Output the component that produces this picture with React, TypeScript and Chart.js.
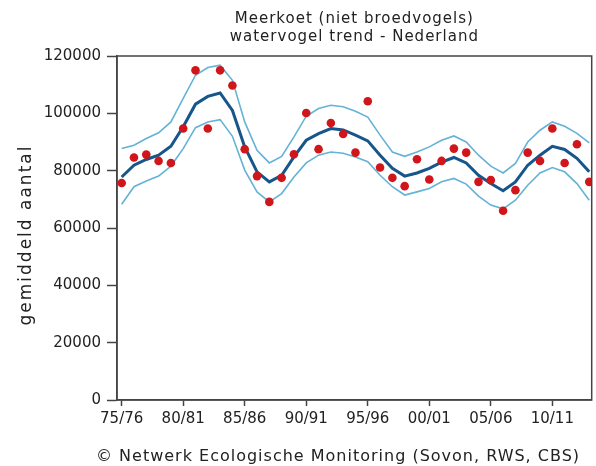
import React, { useEffect, useRef } from "react";
import { Chart, registerables } from "chart.js";

Chart.register(...registerables);

const seasons = [
  "75/76", "76/77", "77/78", "78/79", "79/80", "80/81", "81/82", "82/83", "83/84", "84/85",
  "85/86", "86/87", "87/88", "88/89", "89/90", "90/91", "91/92", "92/93", "93/94", "94/95",
  "95/96", "96/97", "97/98", "98/99", "99/00", "00/01", "01/02", "02/03", "03/04", "04/05",
  "05/06", "06/07", "07/08", "08/09", "09/10", "10/11", "11/12", "12/13", "13/14",
];

const tickLabels = ["75/76", "80/81", "85/86", "90/91", "95/96", "00/01", "05/06", "10/11"];
const tickIndex = [0, 5, 10, 15, 20, 25, 30, 35];

const counts = [
  75700, 84600, 85600, 83400, 82700, 94700, 115000, 94700, 115000, 109700,
  87500, 78100, 69100, 77500, 85700, 100100, 87500, 96600, 92800, 86300,
  104200, 81100, 77500, 74600, 84000, 76900, 83400, 87700, 86300, 76100,
  76700, 66000, 73200, 86300, 83400, 94700, 82700, 89200, 76100,
];

const trend = [
  77800, 81900, 83900, 85400, 88500, 95300, 103200, 105900, 107100, 101000,
  88300, 79600, 76100, 78400, 84800, 90600, 92900, 94700, 94200, 92400,
  90400, 85400, 80800, 78100, 79200, 80800, 83000, 84600, 82700, 78400,
  75500, 73000, 76100, 81900, 85400, 88500, 87400, 84300, 79600,
];

const upper = [
  87700, 88900, 91200, 93200, 97000, 105200, 113300, 116000, 116800, 111500,
  97000, 87100, 82700, 85000, 91800, 99000, 101700, 102800, 102300, 100700,
  98700, 92400, 86500, 85000, 86500, 88300, 90600, 92100, 90000, 85400,
  81600, 79200, 82500, 90000, 94100, 97000, 95500, 93000, 89700,
];

const lower = [
  68300, 74400, 76400, 78100, 81600, 87700, 95000, 97000, 97800, 92000,
  80200, 72600, 69100, 72000, 77800, 82700, 85400, 86500, 86100, 84800,
  83100, 78400, 74400, 71500, 72600, 73800, 76100, 77300, 75300, 71100,
  68000, 66700, 69700, 74900, 79200, 81100, 79600, 75500, 69700,
];

const titleLines = ["Meerkoet (niet broedvogels)", "watervogel trend - Nederland"];
const yTitle = "gemiddeld aantal";
const footer = "\u00A9 Netwerk Ecologische Monitoring (Sovon, RWS, CBS)";

const FONT = "'DejaVu Sans', Verdana, sans-serif";
const TEXT = "#222";

export default function App() {
  const ref = useRef<HTMLCanvasElement | null>(null);

  useEffect(() => {
    const canvas = ref.current;
    if (!canvas) return;

    const pts = (arr: number[]) => arr.map((v, i) => ({ x: i, y: v }));

    const decor = {
      id: "decor",
      afterDraw(chart: any) {
        const { ctx, chartArea } = chart;
        ctx.save();
        ctx.strokeStyle = "#444";
        ctx.lineWidth = 1.5;
        ctx.strokeRect(chartArea.left, chartArea.top, chartArea.right - chartArea.left, chartArea.bottom - chartArea.top);

        ctx.fillStyle = TEXT;
        ctx.textAlign = "center";
        ctx.textBaseline = "alphabetic";
        ctx.font = `15px ${FONT}`;
        (ctx as any).letterSpacing = "1px";
        const cx = (chartArea.left + chartArea.right) / 2;
        ctx.fillText(titleLines[0], cx, 23);
        ctx.fillText(titleLines[1], cx, 41);

        ctx.font = `17px ${FONT}`;
        (ctx as any).letterSpacing = "2px";
        ctx.save();
        ctx.translate(31, 235);
        ctx.rotate(-Math.PI / 2);
        ctx.fillText(yTitle, 0, 0);
        ctx.restore();

        ctx.font = `16px ${FONT}`;
        (ctx as any).letterSpacing = "1px";
        ctx.textAlign = "left";
        ctx.fillText(footer, 96, 461);
        ctx.restore();
      },
    };

    const chart = new Chart(canvas, {
      type: "line",
      data: {
        datasets: [
          {
            label: "telling",
            data: pts(counts),
            showLine: false,
            pointRadius: 4.3,
            pointBorderWidth: 0,
            pointBackgroundColor: "#d0161a",
            borderColor: "#d0161a",
          },
          {
            label: "trend",
            data: pts(trend),
            borderColor: "#16568a",
            borderWidth: 3,
            pointRadius: 0,
            tension: 0,
          },
          {
            label: "boven",
            data: pts(upper),
            borderColor: "#64b2d6",
            borderWidth: 1.6,
            pointRadius: 0,
            tension: 0,
          },
          {
            label: "onder",
            data: pts(lower),
            borderColor: "#64b2d6",
            borderWidth: 1.6,
            pointRadius: 0,
            tension: 0,
          },
        ],
      },
      options: {
        animation: false,
        responsive: false,
        devicePixelRatio: 1,
        layout: { padding: { top: 56, right: 4, left: 0, bottom: 0 } },
        plugins: {
          legend: { display: false },
          tooltip: { enabled: false },
          title: { display: false },
        },
        scales: {
          x: {
            type: "linear",
            min: -0.38,
            max: 38.2,
            afterFit: (s: any) => { s.height = 66; },
            afterBuildTicks: (s: any) => { s.ticks = tickIndex.map((v) => ({ value: v })); },
            grid: { drawOnChartArea: false, drawTicks: true, tickLength: 6, tickColor: "#444", tickWidth: 1.5 },
            border: { display: true, color: "#444", width: 1.5 },
            ticks: {
              autoSkip: false,
              maxRotation: 0,
              padding: 4,
              color: TEXT,
              font: { family: FONT, size: 15 },
              callback: (v: any) => {
                const k = tickIndex.indexOf(Number(v));
                return k >= 0 ? tickLabels[k] : seasons[Number(v)] ?? "";
              },
            },
          },
          y: {
            min: 0,
            max: 120000,
            afterFit: (s: any) => { s.width = 117; },
            grid: { drawOnChartArea: false, drawTicks: true, tickLength: 10, tickColor: "#444", tickWidth: 1.5 },
            border: { display: true, color: "#444", width: 1.5 },
            ticks: {
              stepSize: 20000,
              padding: 6,
              color: TEXT,
              font: { family: FONT, size: 15 },
              callback: (v: any) => String(v),
            },
          },
        },
      },
      plugins: [decor],
    });

    return () => chart.destroy();
  }, []);

  return (
    <div style={{ position: "fixed", left: 0, top: 0, width: 596, height: 466, background: "#fff" }}>
      <canvas ref={ref} width={596} height={466} style={{ width: 596, height: 466, display: "block" }} />
    </div>
  );
}
